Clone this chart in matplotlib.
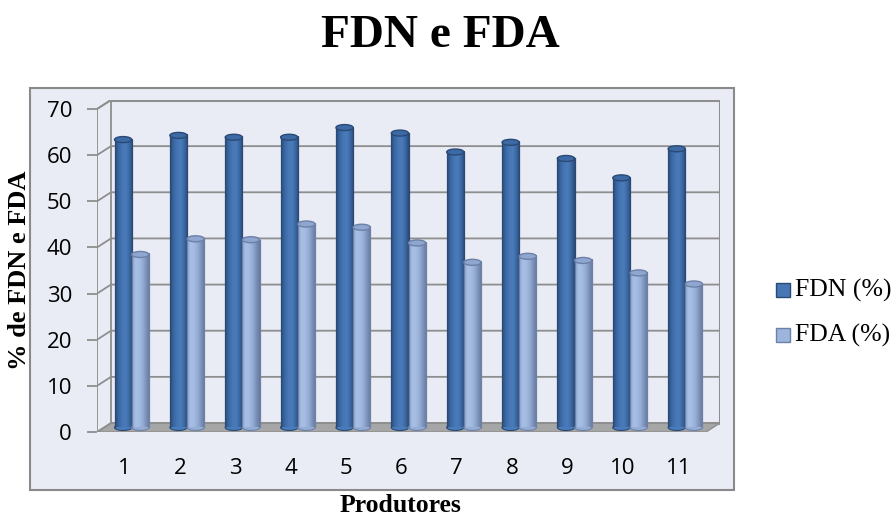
import numpy as np
import matplotlib.pyplot as plt
from matplotlib.patches import Rectangle, Polygon, Ellipse
from matplotlib.colors import LinearSegmentedColormap

# dados
produtores = [str(i) for i in range(1, 12)]
fdn = [62.4, 63.3, 62.9, 62.9, 65.0, 63.8, 59.7, 61.8, 58.3, 54.1, 60.4]
fda = [37.5, 40.9, 40.7, 44.1, 43.4, 40.0, 35.8, 37.1, 36.2, 33.5, 31.1]
series = ['FDN (%)', 'FDA (%)']
yticks = list(range(0, 71, 10))

W, H = 896, 518
fig = plt.figure(figsize=(W / 100, H / 100), dpi=100)

FILL = '#E9ECF4'
GRID = '#8E8E8E'

# moldura da area do grafico
fig.patches.append(Rectangle((30 / W, 28 / H), 704 / W, 402 / H,
                             transform=fig.transFigure, facecolor=FILL,
                             edgecolor='#8A8A8A', lw=1.5, zorder=-5))

# eixos: frente de x=97..706 px, y=432..109 px, mais a profundidade 3D
DX = 14 / 55.4
DY = 9 / 4.614
ax = fig.add_axes([97 / W, 86 / H, 623 / W, 332 / H])
ax.set_zorder(1)
ax.set_xlim(0.5, 11.5 + DX)
ax.set_ylim(0, 70 + DY)
ax.patch.set_visible(False)
for s in ax.spines.values():
    s.set_visible(False)

# paredes e piso
ax.add_patch(Rectangle((0.5 + DX, DY), 11, 70, fc=FILL, ec='none', zorder=1))
ax.add_patch(Polygon([(0.5, 0), (0.5 + DX, DY), (0.5 + DX, 70 + DY), (0.5, 70)],
                     closed=True, fc=FILL, ec='none', zorder=1))
ax.add_patch(Polygon([(0.5, 0), (11.5, 0), (11.5 + DX, DY), (0.5 + DX, DY)],
                     closed=True, fc='#A6A6A6', ec=GRID, lw=1, zorder=2))

for k in yticks:
    ax.plot([0.5, 0.5 + DX, 11.5 + DX], [k, k + DY, k + DY], color=GRID, lw=1.3, zorder=2)
ax.plot([0.5 + DX, 0.5 + DX], [DY, 70 + DY], color=GRID, lw=1.3, zorder=2)
ax.plot([11.5 + DX, 11.5 + DX], [DY, 70 + DY], color=GRID, lw=2.2, zorder=2)
ax.plot([0.5 + DX, 11.5 + DX], [70 + DY, 70 + DY], color=GRID, lw=2.2, zorder=2)
ax.plot([0.5, 0.5], [0, 70], color=GRID, lw=1.3, zorder=2)
ax.plot([0.5, 0.5 + DX], [70, 70 + DY], color=GRID, lw=1.3, zorder=2)

# cilindros
cmap_fdn = LinearSegmentedColormap.from_list(
    'fdn', ['#2B4C7A', '#3A67A2', '#4676B4', '#4A7BBA', '#3C69A4', '#2A4A76'])
cmap_fda = LinearSegmentedColormap.from_list(
    'fda', ['#8DA5CF', '#A8C0E6', '#A3BAE1', '#95ACD5', '#7C91B8', '#66789C'])
grad = np.linspace(0, 1, 64).reshape(1, -1)

BW = 0.31
EH = 1.3
base = DY / 2


def cylinder(x0, val, cmap, top_fc, top_ec, edge, z):
    top = base + val
    ax.add_patch(Ellipse((x0 + BW / 2, base), BW, EH, fc=cmap(0.6), ec=edge, lw=0.8, zorder=z))
    ax.imshow(grad, cmap=cmap, extent=[x0, x0 + BW, base, top], aspect='auto',
              interpolation='bilinear', zorder=z)
    ax.plot([x0, x0], [base, top], color=edge, lw=0.9, zorder=z)
    ax.plot([x0 + BW, x0 + BW], [base, top], color=edge, lw=0.9, zorder=z)
    ax.add_patch(Ellipse((x0 + BW / 2, top), BW, EH, fc=top_fc, ec=top_ec, lw=1.0, zorder=z))


x = np.arange(1, 12)
for i in range(len(x)):
    c = x[i] + DX / 2
    cylinder(c - BW, fdn[i], cmap_fdn, '#3D6AA5', '#2A4A75', '#2A4A75', 3 + i * 0.01)
    cylinder(c, fda[i], cmap_fda, '#8FA7D0', '#6D81A8', '#6D81A8', 3.005 + i * 0.01)

ax.set_xlim(0.5, 11.5 + DX)
ax.set_ylim(0, 70 + DY)

ax.set_yticks(yticks)
ax.set_yticklabels([str(v) for v in yticks], family='Open Sans', fontsize=16)
ax.tick_params(axis='y', direction='out', length=7, width=1.3, color=GRID, pad=11)
ax.set_xticks(x)
ax.set_xticklabels(produtores, family='Open Sans', fontsize=16)
ax.tick_params(axis='x', length=0, pad=19)

# textos
fig.text(440 / W, 1 - 36 / H, 'FDN e FDA', family='Liberation Serif', weight='bold',
         fontsize=34, ha='center', va='center')
fig.text(20 / W, 1 - 270 / H, '% de FDN e FDA', family='Liberation Serif', weight='bold',
         fontsize=19, rotation=90, ha='center', va='center')
fig.text(400 / W, 1 - 506 / H, 'Produtores', family='Liberation Serif', weight='bold',
         fontsize=18.5, ha='center', va='center')

# legenda
leg_fc = ['#4676B4', '#9DB4DC']
leg_ec = ['#2A4A75', '#6D81A8']
leg_y = [290, 335]
for lab, fc, ec, yy in zip(series, leg_fc, leg_ec, leg_y):
    fig.patches.append(Rectangle((776 / W, 1 - (yy + 7) / H), 14 / W, 14 / H,
                                 transform=fig.transFigure, fc=fc, ec=ec, lw=1))
    fig.text(795 / W, 1 - yy / H, lab, family='Liberation Serif', fontsize=18.5,
             ha='left', va='center')

fig.savefig('out.png', dpi=100)
